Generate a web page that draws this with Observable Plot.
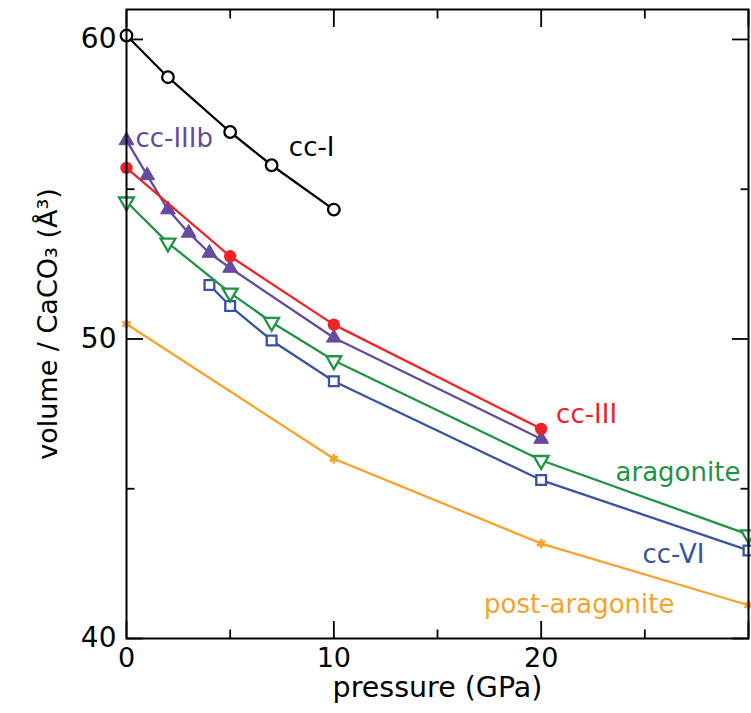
<!DOCTYPE html>
<html><head><meta charset="utf-8">
<script src="https://cdn.jsdelivr.net/npm/d3@7"></script>
<script src="https://cdn.jsdelivr.net/npm/@observablehq/plot@0.6"></script>
<style>body{margin:0;background:#fff;} #chart svg{display:block;}</style>
</head><body><div id="chart"></div>
<script>
// pressure (GPa) and volume per CaCO3 (Å^3) for each phase
const ccI_P = [0, 2, 5, 7, 10];
const ccI_V = [60.13, 58.74, 56.91, 55.80, 54.32];
const ccIIIb_P = [0, 1, 2, 3, 4, 5, 10, 20];
const ccIIIb_V = [56.63, 55.46, 54.32, 53.54, 52.87, 52.37, 50.04, 46.66];
const ccIII_P = [0, 5, 10, 20];
const ccIII_V = [55.71, 52.76, 50.48, 47.00];
const arag_P = [0, 2, 5, 7, 10, 20, 30];
const arag_V = [54.58, 53.21, 51.54, 50.56, 49.28, 45.95, 43.47];
const ccVI_P = [4, 5, 7, 10, 20, 30];
const ccVI_V = [51.80, 51.10, 49.95, 48.59, 45.29, 42.94];
const post_P = [0, 10, 20, 30];
const post_V = [50.50, 46.00, 43.17, 41.11];

// series labels (text, anchor pressure, anchor volume)
const labelText = ["cc-I", "cc-IIIb", "cc-III", "aragonite", "cc-VI", "post-aragonite"];
const labelP = [7.83, 0.43, 20.72, 29.61, 27.87, 26.43];
const labelV = [56.10, 56.41, 47.19, 45.25, 42.52, 40.85];
const labelAnchor = ["start", "start", "start", "end", "end", "end"];

const xMajor = [0, 10, 20, 30];
const xMinor = [5, 15, 25];
const xLabels = [0, 10, 20];
const yMajor = [40, 50, 60];
const yMinor = [45, 55];

const colors = {
  "cc-I": "#000000",
  "cc-IIIb": "#654b9e",
  "cc-III": "#ec2427",
  "aragonite": "#1f9442",
  "cc-VI": "#3852a4",
  "post-aragonite": "#f9a12a"
};

const toRows = (P, V) => P.map((p, i) => ({p, v: V[i]}));
const ccI = toRows(ccI_P, ccI_V);
const ccIIIb = toRows(ccIIIb_P, ccIIIb_V);
const ccIII = toRows(ccIII_P, ccIII_V);
const arag = toRows(arag_P, arag_V);
const ccVI = toRows(ccVI_P, ccVI_V);
const post = toRows(post_P, post_V);
const labels = labelText.map((t, i) => ({t, p: labelP[i], v: labelV[i], a: labelAnchor[i]}));

const font = "DejaVu Sans, Liberation Sans, Arial, sans-serif";
const lw = 2.3;
const line = (data, c) => Plot.line(data, {x: "p", y: "v", stroke: c, strokeWidth: lw});

const tickAxes = [];
for (const anchor of ["bottom", "top"]) {
  tickAxes.push(Plot.axisX(xMajor, {anchor, tickSize: -17, tickFormat: () => "", strokeWidth: 1.8}));
  tickAxes.push(Plot.axisX(xMinor, {anchor, tickSize: -8.5, tickFormat: () => "", strokeWidth: 1.8}));
}
for (const anchor of ["left", "right"]) {
  tickAxes.push(Plot.axisY(yMajor, {anchor, tickSize: -17, tickFormat: () => "", strokeWidth: 1.8}));
  tickAxes.push(Plot.axisY(yMinor, {anchor, tickSize: -8.5, tickFormat: () => "", strokeWidth: 1.8}));
}

const chart = Plot.plot({
  width: 751,
  height: 713,
  marginLeft: 126,
  marginRight: 3,
  marginTop: 9,
  marginBottom: 75,
  style: {fontFamily: font, background: "white", color: "black"},
  x: {domain: [0, 30], label: null},
  y: {domain: [40, 61], label: null},
  marks: [
    ...tickAxes,
    Plot.axisX(xLabels, {anchor: "bottom", tickSize: 0, tickPadding: 9, fontSize: 27, label: null}),
    Plot.axisY(yMajor, {anchor: "left", tickSize: 0, tickPadding: 10, fontSize: 28, label: null}),
    // series
    line(post, colors["post-aragonite"]),
    Plot.dot(post, {x: "p", y: "v", symbol: "asterisk", r: 4.5, stroke: colors["post-aragonite"], strokeWidth: 2.6}),
    line(ccVI, colors["cc-VI"]),
    Plot.dot(ccVI, {x: "p", y: "v", symbol: "square", r: 5.5, stroke: colors["cc-VI"], fill: "white", strokeWidth: lw}),
    line(arag, colors["aragonite"]),
    Plot.dot(arag, {x: "p", y: "v", symbol: "triangle", rotate: 180, r: 5.5, stroke: colors["aragonite"], fill: "white", strokeWidth: lw}),
    line(ccIIIb, colors["cc-IIIb"]),
    Plot.dot(ccIIIb, {x: "p", y: "v", symbol: "triangle", r: 5.5, fill: colors["cc-IIIb"], stroke: colors["cc-IIIb"], strokeWidth: 1}),
    line(ccIII, colors["cc-III"]),
    Plot.dot(ccIII, {x: "p", y: "v", symbol: "circle", r: 6.2, fill: colors["cc-III"], stroke: "none"}),
    line(ccI, colors["cc-I"]),
    Plot.dot(ccI, {x: "p", y: "v", symbol: "circle", r: 5.8, fill: "white", stroke: colors["cc-I"], strokeWidth: lw}),
    // series labels
    Plot.text(labels, {x: "p", y: "v", text: "t", textAnchor: "start", lineAnchor: "bottom", fontSize: 26,
      fill: d => colors[d.t], filter: d => d.a === "start"}),
    Plot.text(labels, {x: "p", y: "v", text: "t", textAnchor: "end", lineAnchor: "bottom", fontSize: 26,
      fill: d => colors[d.t], filter: d => d.a === "end"}),
    // axis titles
    Plot.text(["pressure (GPa)"], {text: d => d, frameAnchor: "bottom", textAnchor: "middle", lineAnchor: "bottom", dy: 58, fontSize: 28.5, fill: "black"}),
    Plot.text(["volume / CaCO₃ (Å³)"], {text: d => d, frameAnchor: "left", textAnchor: "middle", rotate: -90, lineAnchor: "bottom", dx: -70, fontSize: 27, fill: "black"}),
    Plot.frame({stroke: "black", strokeWidth: 2})
  ]
});
document.getElementById("chart").append(chart);
</script>
</body></html>
